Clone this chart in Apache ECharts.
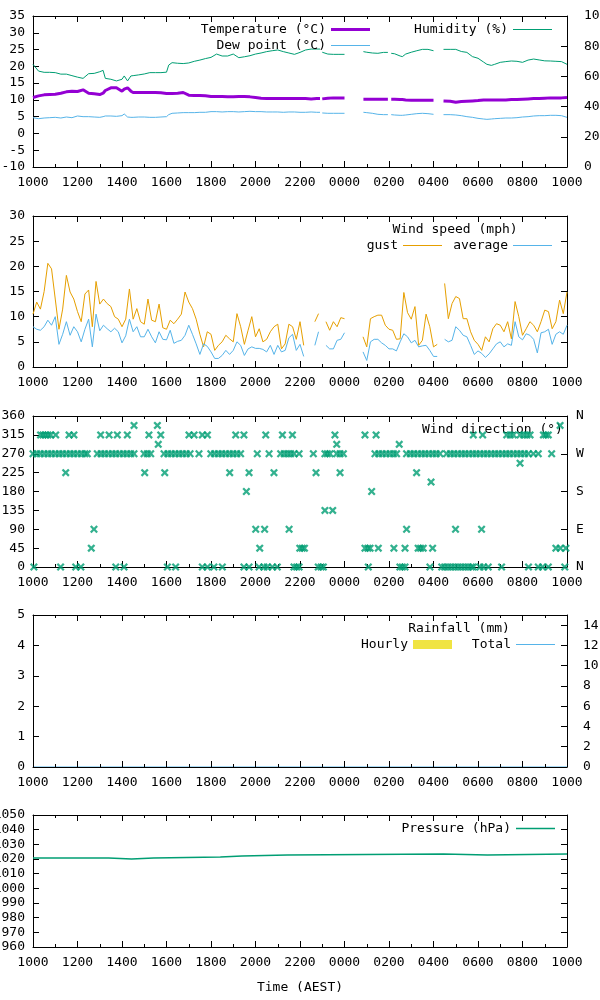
<!DOCTYPE html>
<html>
<head>
<meta charset="utf-8">
<script src="https://cdn.jsdelivr.net/npm/echarts@6/dist/echarts.min.js"></script>
<style>
html,body{margin:0;padding:0;background:#fff;}
#chart{width:600px;height:1000px;}
</style>
</head>
<body>
<div id="chart"></div>
<script>
// ---------------- DATA ----------------
// time axis: hours after 10:00 AEST (0 .. 24)
const xTickLabelsStart = 10; // first tick label is 1000

// temperature / humidity / dew point readings (null = no data)
const thTime = [0,0.25,0.5,0.75,1,1.25,1.5,1.75,2,2.25,2.5,2.75,3,3.15,3.25,3.5,3.75,4,4.1,4.25,4.4,4.5,4.75,5,5.25,5.5,5.75,6,6.1,6.25,6.5,6.75,7,7.25,7.5,7.75,8,8.25,8.5,8.75,9,9.25,9.5,9.75,10,10.25,10.5,10.75,11,11.25,11.5,11.75,12,12.25,12.5,12.75,12.9,12.95,13,13.25,13.5,13.75,14,14.4,14.85,15,15.25,15.5,15.75,15.95,16,16.1,16.25,16.5,16.6,16.75,17,17.25,17.5,17.75,18,18.2,18.45,18.75,19,19.25,19.5,19.75,20,20.25,20.4,20.6,20.75,21,21.25,21.5,21.75,22,22.25,22.5,22.75,23,23.25,23.5,23.75,24];
const temperature = [10.7,11.2,11.5,11.6,11.7,12.0,12.4,12.6,12.5,13.0,12.0,11.8,11.6,12.0,12.8,13.6,13.6,12.6,13.2,13.6,12.6,12.2,12.2,12.2,12.2,12.2,12.1,11.9,11.9,11.9,12.0,12.2,11.4,11.3,11.3,11.2,11.0,11.0,11.0,10.9,10.9,11.0,11.0,10.9,10.7,10.5,10.4,10.4,10.4,10.4,10.4,10.4,10.4,10.4,10.3,10.4,10.4,null,10.3,10.5,10.6,10.6,10.6,null,10.2,10.2,10.2,10.2,10.2,10.2,null,10.2,10.2,10.1,10.1,10.0,9.9,9.9,9.9,9.9,9.9,null,9.7,9.6,9.3,9.5,9.6,9.7,9.8,10.0,10.0,10.0,10.0,10.0,10.0,10.1,10.1,10.2,10.3,10.4,10.4,10.5,10.6,10.6,10.6,10.7];
const humidity = [68.0,63.5,62.7,62.7,62.5,61.5,61.5,60.5,59.5,58.7,61.8,62.0,63.1,64.0,58.7,58.1,57.0,58.1,60.3,57.0,60.3,60.5,61.0,61.6,62.5,62.5,62.5,62.8,67.5,69.1,68.7,68.5,68.9,70.0,70.8,71.8,72.6,74.8,73.5,73.5,74.8,72.4,73.0,73.7,74.8,75.5,76.4,77.0,77.5,76.4,75.5,74.6,75.9,77.5,78.1,78.1,78.1,null,76.0,74.8,74.6,74.6,74.6,null,76.4,76.0,75.5,75.3,75.9,75.9,null,75.3,75.0,73.5,73.1,74.8,76.0,77.0,77.9,77.9,77.0,null,77.9,77.9,77.9,76.5,75.9,73.1,72.0,69.5,68.0,67.3,68.0,69.3,69.8,70.2,70.0,69.3,70.8,71.5,70.9,70.3,70.2,70.0,69.8,68.0];
const dewPoint = [4.7,4.4,4.6,4.7,4.8,4.6,4.9,4.7,5.2,5.0,5.0,4.9,4.8,5.0,5.2,5.2,5.1,5.3,5.8,4.9,4.8,4.8,4.9,4.9,4.8,4.8,4.9,5.0,5.6,6.0,6.1,6.2,6.2,6.2,6.3,6.3,6.5,6.5,6.4,6.5,6.5,6.4,6.5,6.6,6.5,6.5,6.4,6.4,6.4,6.3,6.4,6.4,6.3,6.3,6.4,6.3,6.3,null,6.1,6.0,6.0,6.0,6.0,null,6.3,6.2,6.0,5.7,5.6,5.6,null,5.6,5.5,5.4,5.4,5.5,5.7,5.9,6.0,5.9,5.7,null,5.6,5.6,5.5,5.3,5.0,4.8,4.5,4.3,4.2,4.3,4.4,4.5,4.6,4.6,4.7,4.9,5.0,5.2,5.3,5.3,5.4,5.4,5.3,4.8];

// wind speed (mph), one reading every 10 minutes from 10:00
const windStepHours = 1 / 6;
const windGust = [10.5,12.9,11.5,15,20.6,19.5,13.5,7.5,11.5,18.2,14.9,13.5,11,9,14.5,15.3,8,17,12.5,13.5,12.6,12,10,9.5,8,9.5,15.5,9.5,11.6,9,8.5,13.5,9.3,9,12.5,7.8,7.5,9.3,8.6,9.5,10.5,14.9,12.9,11.6,9.5,6.5,4,7,6.5,3.3,4.3,5,6.3,5.6,5,10.6,8,4.5,7.3,10,6,7.6,5,5.5,7,8,8.5,3.6,4.6,8.5,8,5.5,9,4.3,null,null,9,10.6,null,9,7.3,9,8,9.8,9.6,null,null,null,null,6,4,9.6,10,10.3,10.3,8.3,7.5,7.3,5.5,5.6,14.8,10.8,9.5,12,4.3,5.3,10.5,8,4,4.5,null,16.6,9.6,12.6,14,13.6,9.6,9.6,7,5.3,4.5,3.3,6,5,7.6,8.6,8.3,7,9,5.6,13,10,6.3,7.6,9,8.3,7,9,11.3,11,7.6,9,13.3,10.6,14.9];
const windAverage = [8,7.5,7.3,8,9.3,8.3,10,4.5,6.5,9,6.3,8,7,5,7.5,9.5,4,10.5,7.2,8.3,7.6,7,7.7,7,4.8,6.2,9.5,7,8,6,6,7.5,6,4.8,7,5.5,5.4,7.3,4.7,5.1,5.3,6.3,8.3,6.5,4.6,2.5,4.6,4.1,3,1.7,1.7,2.3,3.3,2.5,3.3,5,4.3,2.3,3.6,4,3.7,3.7,3.5,3,4.3,2.5,4.3,3,3.3,5.8,6.5,3.3,4.5,2.1,null,null,4.3,7,null,4.3,3.6,3.6,5.3,5.5,6.8,null,null,null,null,3,1.3,5,5.5,5.5,4.8,4.3,3.6,3.6,3.2,5,6.6,6,4.8,5.3,4,4.2,4.3,3.3,2.1,2.1,null,5.5,5,5.3,8,7.3,6.3,6,4.3,2.5,3.2,2.7,1.9,2.6,3.6,4.6,5,4,4.6,4.3,9,6,5.4,6.6,6.3,5.5,2.8,6.8,7,7.5,4.5,6.5,7,6.5,8.3];

// wind direction observations: [hours after 10:00, degrees]
const windDirection = [
 [0.04,0],[1.24,0],[1.92,0],[2.15,0],[3.72,0],[4.09,0],[6.04,0],[6.41,0],[7.61,0],[7.84,0],[8.13,0],[8.51,0],[9.48,0],[9.71,0],[10.16,0],[10.38,0],[10.53,0],[10.76,0],[10.98,0],[11.73,0],[11.85,0],[11.96,0],[12.82,0],[12.95,0],[13.05,0],[15.07,0],[16.49,0],[16.6,0],[16.72,0],[17.84,0],[18.37,0],[18.5,0],[18.65,0],[18.8,0],[18.95,0],[19.1,0],[19.25,0],[19.4,0],[19.55,0],[19.7,0],[19.79,0],[20.09,0],[20.25,0],[20.46,0],[21.06,0],[22.27,0],[22.71,0],[22.9,0],[23.16,0],[23.9,0],
 [2.62,45],[10.19,45],[11.99,45],[12.1,45],[12.2,45],[14.92,45],[15.05,45],[15.15,45],[15.52,45],[16.22,45],[16.72,45],[17.31,45],[17.42,45],[17.54,45],[17.96,45],[23.5,45],[23.7,45],[23.95,45],
 [2.74,90],[10.01,90],[10.41,90],[11.51,90],[16.79,90],[18.99,90],[20.16,90],
 [13.12,135],[13.47,135],
 [9.59,180],[15.22,180],
 [17.89,202.5],
 [1.47,225],[5.02,225],[5.92,225],[8.84,225],[9.71,225],[10.83,225],[12.72,225],[13.8,225],[17.24,225],
 [21.89,247.5],
 [0,270],[0.17,270],[0.33,270],[0.5,270],[0.67,270],[0.83,270],[1,270],[1.17,270],[1.33,270],[1.5,270],[1.67,270],[1.83,270],[2,270],[2.17,270],[2.33,270],[2.44,270],
 [2.89,270],[3.06,270],[3.22,270],[3.39,270],[3.56,270],[3.72,270],[3.89,270],[4.06,270],[4.22,270],[4.39,270],[4.54,270],
 [4.99,270],[5.14,270],[5.29,270],
 [5.89,270],[6.06,270],[6.22,270],[6.39,270],[6.56,270],[6.72,270],[6.89,270],[7.06,270],[7.46,270],
 [7.99,270],[8.16,270],[8.33,270],[8.49,270],[8.66,270],[8.83,270],[8.99,270],[9.16,270],[9.33,270],
 [10.08,270],[10.61,270],[11.13,270],[11.29,270],[11.44,270],[11.58,270],[11.73,270],[11.96,270],
 [12.6,270],[13.12,270],[13.23,270],[13.35,270],[13.65,270],[13.8,270],[13.95,270],
 [15.37,270],[15.54,270],[15.7,270],[15.87,270],[16.04,270],[16.2,270],[16.34,270],
 [16.79,270],[16.96,270],[17.12,270],[17.29,270],[17.46,270],[17.62,270],[17.79,270],[17.96,270],[18.12,270],[18.29,270],
 [18.59,270],[18.76,270],[18.92,270],[19.09,270],[19.26,270],[19.42,270],[19.59,270],[19.76,270],[19.92,270],[20.09,270],[20.26,270],[20.42,270],[20.59,270],[20.76,270],[20.92,270],[21.09,270],[21.26,270],[21.42,270],[21.59,270],[21.76,270],[21.92,270],[22.09,270],[22.26,270],[22.49,270],
 [22.71,270],[23.31,270],
 [5.63,292.5],[13.65,292.5],[16.46,292.5],
 [0.34,315],[0.45,315],[0.56,315],[0.67,315],[0.79,315],[1.02,315],[1.62,315],[1.84,315],[3.04,315],[3.42,315],[3.79,315],[4.24,315],[5.21,315],[5.74,315],[7.01,315],[7.24,315],[7.61,315],[7.84,315],[9.11,315],[9.48,315],[10.46,315],[11.21,315],[11.66,315],[13.57,315],[14.92,315],[15.42,315],[19.79,315],[20.21,315],[21.29,315],[21.45,315],[21.59,315],[21.89,315],[22.05,315],[22.2,315],[22.34,315],[22.94,315],[23.05,315],[23.16,315],
 [4.54,337.5],[5.59,337.5],[23.69,337.5]
];

// rainfall (mm): hourly amounts and running total, one per hour
const rainHourly = [0,0,0,0,0,0,0,0,0,0,0,0,0,0,0,0,0,0,0,0,0,0,0,0];
const rainTotal  = [0,0,0,0,0,0,0,0,0,0,0,0,0,0,0,0,0,0,0,0,0,0,0,0,0];

// pressure (hPa) at the times it changed
const pressureTime = [0,3.4,4.43,5.42,8.42,9.4,11.43,18.45,20.42,24];
const pressure = [1020.7,1020.0,1020.7,1021.4,1022.0,1022.7,1023.4,1022.7,1023.4,1023.4];

const dirLabels = {0:'N',90:'E',180:'S',270:'W',360:'N'};

// ---------------- CHART ----------------
const FONT = 'DejaVu Sans Mono';
const FS = 13;
const txt = {fontFamily: FONT, fontSize: FS, color: '#000'};

function timeLabel(v){
  const h = (xTickLabelsStart + Math.round(v)) % 24;
  return String(h * 100).padStart(4, '0');
}
const plain = v => String(v);
const zip = (t, v) => t.map((x, i) => [x, v[i]]);

const panels = [
  {top:16,  height:151},
  {top:216, height:151},
  {top:416, height:151},
  {top:615, height:152},
  {top:815, height:132}
];
const grid = panels.map(p => ({left:33, width:534, top:p.top, height:p.height,
  containLabel:false, outerBoundsMode:'none'}));

const lineAx = {show:true, onZero:false, lineStyle:{color:'#000', width:1}};
const xAxis = [];
panels.forEach((p, gi) => {
  const c = {type:'value', gridIndex:gi, min:0, max:24, interval:2,
    splitLine:{show:false}, minorSplitLine:{show:false},
    axisLine:lineAx,
    axisTick:{show:true, inside:true, length:6, lineStyle:{color:'#000'}},
    minorTick:{show:true, splitNumber:2, length:3, lineStyle:{color:'#000'}}};
  xAxis.push(Object.assign({}, c, {position:'bottom', z: gi === 3 ? 5 : 0,
    axisLabel:Object.assign({show:true, margin:9, formatter:timeLabel}, txt)}));
  xAxis.push(Object.assign({}, c, {position:'top', axisLabel:{show:false}}));
});

function yAx(gi, pos, min, max, interval, label, margin){
  return {type:'value', gridIndex:gi, position:pos, min:min, max:max, interval:interval,
    splitLine:{show:false}, axisLine:lineAx,
    axisTick:{show:true, inside:true, length:6, lineStyle:{color:'#000'}},
    axisLabel: label ? Object.assign({show:true, margin:margin, formatter:label===true?plain:label}, txt, pos==='right'?{align:'left'}:{}) : {show:false}};
}
const yAxis = [
  yAx(0,'left',-10,35,5,true,8),   yAx(0,'right',0,100,20,true,17),
  yAx(1,'left',0,30,5,true,8),     yAx(1,'right',0,30,5,false),
  yAx(2,'left',0,360,45,true,8),   yAx(2,'right',0,360,90,v=>dirLabels[v]||'',9),
  yAx(3,'left',0,5,1,true,8),      yAx(3,'right',0,15,2,v=>(v%2===0?String(v):''),16),
  yAx(4,'left',960,1050,10,true,8),yAx(4,'right',960,1050,10,false)
];

function lineSeries(name, xi, yi, data, color, width, extra){
  return Object.assign({name:name, type:'line', xAxisIndex:xi, yAxisIndex:yi, data:data,
    showSymbol:false, symbol:'none', itemStyle:{color:color}, lineStyle:{color:color, width:width},
    connectNulls:false, animation:false, silent:true}, extra||{});
}

const crossPath = 'path://M0,2L2,0L5,3L8,0L10,2L7,5L10,8L8,10L5,7L2,10L0,8L3,5Z';

const series = [
  lineSeries('Temperature (°C)', 0, 0, zip(thTime, temperature), '#9400d3', 3),
  lineSeries('Humidity (%)',     0, 1, zip(thTime, humidity),    '#009e73', 1),
  lineSeries('Dew point (°C)',   0, 0, zip(thTime, dewPoint),    '#56b4e9', 1),
  lineSeries('gust',    2, 2, windGust.map((v,i)=>[i*windStepHours, v]),    '#e69f00', 1),
  lineSeries('average', 2, 2, windAverage.map((v,i)=>[i*windStepHours, v]), '#56b4e9', 1),
  {name:'Wind direction', type:'scatter', xAxisIndex:4, yAxisIndex:4, data:windDirection,
   symbol:crossPath, symbolSize:8, itemStyle:{color:'#009e73'}, animation:false, silent:true, clip:false},
  {name:'Hourly', type:'bar', xAxisIndex:6, yAxisIndex:6, data:rainHourly.map((v,i)=>[i+0.5, v]),
   barWidth:20, itemStyle:{color:'#f0e442'}, animation:false, silent:true},
  lineSeries('Total', 6, 7, rainTotal.map((v,i)=>[i, v]), '#56b4e9', 1, {z:1}),
  lineSeries('Pressure (hPa)', 8, 8, zip(pressureTime, pressure), '#009e73', 1.5, {step:'end'})
];

function leg(name, color, right, top, h){
  return {data:[{name:name, itemStyle:{color:color}}], right:right, top:top, orient:'horizontal', align:'right', icon:'rect',
    itemWidth:39, itemHeight:h||1, padding:0, selectedMode:false, textStyle:txt};
}
const legend = [
  leg('Temperature (°C)', '#9400d3', 230, 23, 3),
  leg('Humidity (%)', '#009e73', 48, 23, 1),
  leg('Dew point (°C)', '#56b4e9', 230, 39, 1),
  leg('gust', '#e69f00', 158, 239, 1),
  leg('average', '#56b4e9', 48, 239, 1),
  leg('Hourly', '#f0e442', 148, 638, 9),
  leg('Total', '#56b4e9', 45, 638, 1),
  leg('Pressure (hPa)', '#009e73', 45, 822, 1.5)
];

function label(text, x, y, align){
  return {type:'text', x:x, y:y, silent:true,
    style:{text:text, font: FS + 'px "' + FONT + '"', fill:'#000', align:align||'center', verticalAlign:'middle'}};
}
const graphic = [
  label('Wind speed (mph)', 455, 230),
  label('Wind direction (°)', 422, 430, 'left'),
  label('Rainfall (mm)', 459, 629),
  label('Time (AEST)', 300, 988)
];

const chart = echarts.init(document.getElementById('chart'), null, {renderer:'canvas'});
chart.setOption({animation:false, backgroundColor:'#fff', grid, xAxis, yAxis, series, legend, graphic});
</script>
</body>
</html>
